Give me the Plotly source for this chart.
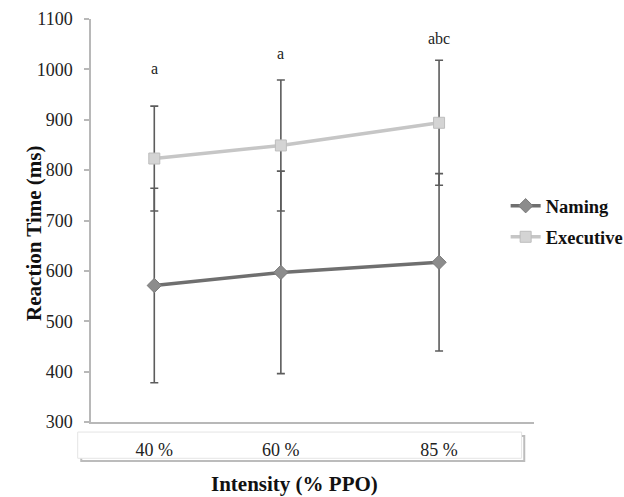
import plotly.graph_objects as go

intensity = [40, 60, 85]
tick_labels = ["40 %", "60 %", "85 %"]
naming = [571, 597, 617]
naming_sd = [193, 201, 176]
executive = [823, 849, 894]
executive_sd = [104, 130, 124]
sig_labels = ["a", "a", "abc"]
sig_y = [1002, 1032, 1062]

SERIF = "Liberation Serif, Times New Roman, serif"
ERR = "#5c5c5c"

fig = go.Figure()
fig.add_trace(go.Scatter(
    x=intensity, y=naming, name="<b>Naming</b>", mode="lines+markers",
    legendgroup="naming",
    line=dict(color="#6f6f6f", width=3.5),
    marker=dict(symbol="diamond", size=11, color="#8c8c8c", line=dict(color="#7a7a7a", width=1)),
    error_y=dict(type="data", array=naming_sd, color=ERR, thickness=1.6, width=4),
))
fig.add_trace(go.Scatter(
    x=intensity, y=executive, name="<b>Executive</b>", mode="lines+markers",
    legendgroup="executive",
    line=dict(color="#c6c6c6", width=3.5),
    marker=dict(symbol="square", size=11, color="#d4d4d4", line=dict(color="#bdbdbd", width=1)),
    error_y=dict(type="data", array=executive_sd, color=ERR, thickness=1.6, width=4),
))

for xv, yv, t in zip(intensity, sig_y, sig_labels):
    fig.add_annotation(x=xv, y=yv, text=t, showarrow=False,
                       font=dict(family=SERIF, size=16, color="#222"))

# category label box beneath axis
fig.add_shape(type="rect", xref="paper", yref="paper",
              x0=-0.022, x1=0.978, y0=-0.097, y1=-0.035,
              line=dict(color="#bcbcbc", width=2), fillcolor="rgba(0,0,0,0)", layer="below")
fig.add_shape(type="rect", xref="paper", yref="paper",
              x0=-0.03, x1=0.972, y0=-0.09, y1=-0.025,
              line=dict(color="#e4e4e4", width=1), fillcolor="white", layer="below")

fig.add_annotation(xref="paper", yref="paper", x=0.459, y=-0.155, yanchor="middle",
                   text="<b>Intensity (% PPO)</b>", showarrow=False,
                   font=dict(family=SERIF, size=21, color="#111"))
fig.add_annotation(xref="paper", yref="paper", x=-0.16, y=0.467, textangle=-90,
                   text="<b>Reaction Time (ms)</b>", showarrow=False,
                   font=dict(family=SERIF, size=21, color="#111"))

fig.update_layout(
    width=624, height=497,
    margin=dict(l=91, r=90, t=19, b=75, autoexpand=False),
    paper_bgcolor="white", plot_bgcolor="white",
    font=dict(family=SERIF, size=18, color="#222"),
    showlegend=True,
    legend=dict(x=0.936, y=0.497, xanchor="left", yanchor="middle",
                font=dict(family=SERIF, size=18.5, color="#111"),
                itemwidth=30, tracegroupgap=4, bgcolor="rgba(0,0,0,0)",
                borderwidth=0),
    xaxis=dict(range=[30, 100], tickvals=intensity, ticktext=tick_labels,
               showgrid=False, zeroline=False, showline=True, linecolor="#b8b8b8",
               linewidth=1.5, ticks="", ticklabelstandoff=11,
               tickfont=dict(family=SERIF, size=18, color="#222")),
    yaxis=dict(range=[300, 1100], dtick=100, showgrid=False, zeroline=False,
               showline=True, linecolor="#b8b8b8", linewidth=1.5,
               ticks="outside", ticklen=5, tickcolor="#b8b8b8", tickwidth=1.5,
               ticklabelstandoff=8,
               tickfont=dict(family=SERIF, size=18, color="#222")),
)

fig.write_html("out.html")
